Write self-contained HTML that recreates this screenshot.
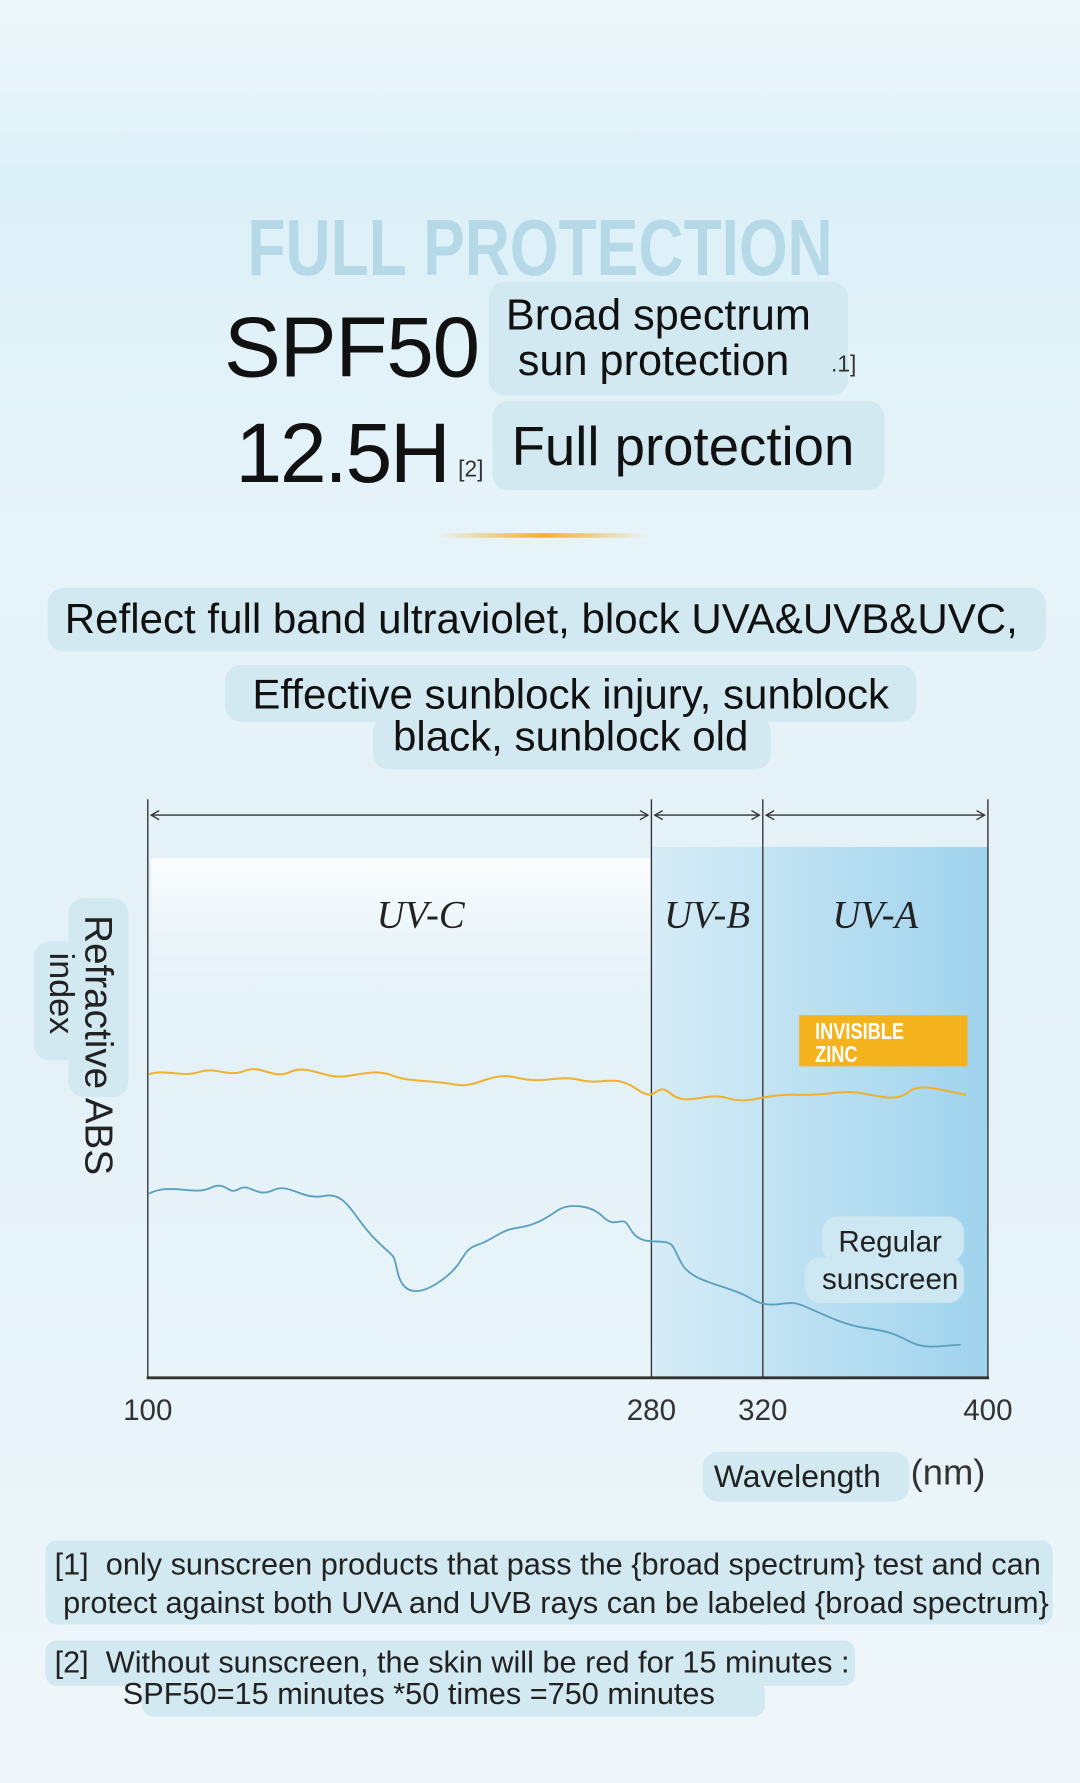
<!DOCTYPE html>
<html><head><meta charset="utf-8">
<style>
html,body{margin:0;padding:0;width:1080px;height:1783px;overflow:hidden}
body{background:#eaf5fa}
#c{position:absolute;left:0;top:0;width:950px;height:1568px;transform:scale(1.13684);transform-origin:0 0;
background:linear-gradient(180deg,#eef7fb 0%,#dcf0f8 10%,#e6f3f9 30%,#e3f1f8 55%,#e8f4f9 80%,#f0f7fa 100%);
font-family:"Liberation Sans",sans-serif;color:#111;overflow:hidden}
.a{position:absolute;white-space:nowrap}
.box{position:absolute;background:#d3e9f1;border-radius:14px}
</style></head><body>
<div id="c">
<div class="a" style="left:0;width:950px;top:178px;text-align:center;font-weight:bold;font-size:70px;color:#b6d9e8;transform:scaleX(0.785);transform-origin:475px 0">FULL PROTECTION</div>
<div class="a" style="left:197px;top:262px;font-size:75px;letter-spacing:-1px">SPF50</div>
<div class="box" style="left:430px;top:248px;width:316px;height:100px"></div>
<div class="a" style="left:445px;top:258px;font-size:38px;line-height:40px">Broad spectrum<br>&nbsp;sun protection</div>
<div class="a" style="left:731px;top:310px;font-size:20px;color:#333">.1]</div>
<div class="a" style="left:207px;top:356px;font-size:74px;letter-spacing:-2px">12.5H</div>
<div class="a" style="left:403px;top:402px;font-size:20px;color:#333">[2]</div>
<div class="box" style="left:433px;top:353px;width:345px;height:78px"></div>
<div class="a" style="left:450px;top:366px;font-size:48px">Full protection</div>
<div class="a" style="left:385px;top:469px;width:185px;height:4px;background:linear-gradient(90deg,rgba(245,178,40,0),#f3b02a,rgba(245,178,40,0))"></div>
<div class="box" style="left:42px;top:517px;width:878px;height:56px"></div>
<div class="a" style="left:57px;top:524px;font-size:37px">Reflect full band ultraviolet, block UVA&amp;UVB&amp;UVC,</div>
<div class="box" style="left:198px;top:585px;width:608px;height:50px"></div>
<div class="box" style="left:328px;top:630px;width:350px;height:47px"></div>
<div class="a" style="left:198px;width:608px;top:592px;text-align:center;font-size:37px;line-height:37px">Effective sunblock injury, sunblock<br>black, sunblock old</div>

<svg class="a" style="left:0;top:690px" width="950" height="560" viewBox="0 690 950 560">
<defs>
<linearGradient id="g1" x1="0" x2="1" y1="0" y2="0"><stop offset="0" stop-color="#d6ecf6"/><stop offset="1" stop-color="#9fd3ee"/></linearGradient>
<linearGradient id="g2" x1="0" x2="0" y1="0" y2="1"><stop offset="0" stop-color="#fbfdfe"/><stop offset="1" stop-color="#e2f1f8" stop-opacity="0"/></linearGradient>
</defs>
<rect x="573" y="745" width="296" height="467" fill="url(#g1)"/>
<rect x="133" y="755" width="440" height="180" fill="url(#g2)"/>
<g stroke="#333" stroke-width="1.2" fill="none">
<line x1="130" y1="703" x2="130" y2="1213"/><line x1="573" y1="703" x2="573" y2="1212"/>
<line x1="671" y1="703" x2="671" y2="1212"/><line x1="869" y1="703" x2="869" y2="1212"/>
<line x1="129" y1="1212" x2="870" y2="1212" stroke-width="2.5"/>
<line x1="133" y1="717" x2="570" y2="717"/><line x1="576" y1="717" x2="668" y2="717"/><line x1="674" y1="717" x2="866" y2="717"/>
<path d="M140 713l-7 4 7 4M563 713l7 4-7 4M583 713l-7 4 7 4M661 713l7 4-7 4M681 713l-7 4 7 4M859 713l7 4-7 4"/>
</g>
<g font-family="Liberation Serif,serif" font-style="italic" font-size="34" fill="#222" text-anchor="middle">
<text x="370" y="816">UV-C</text><text x="622" y="816">UV-B</text><text x="770" y="816">UV-A</text></g>
<rect x="703" y="893" width="148" height="45" fill="#f4b21c"/>
<text x="717" y="914" font-family="Liberation Sans,sans-serif" font-weight="bold" font-size="20" fill="#fff" transform="translate(717 0) scale(0.8 1) translate(-717 0)">INVISIBLE</text>
<text x="717" y="934" font-family="Liberation Sans,sans-serif" font-weight="bold" font-size="20" fill="#fff" transform="translate(717 0) scale(0.8 1) translate(-717 0)">ZINC</text>
<path d="M131 945 C145 940 160 948 175 943 S200 948 215 942 S240 950 255 943 S285 948 300 947 S330 940 345 946 S380 950 400 954 S430 942 455 948 S490 945 510 950 S540 944 560 958 S575 950 590 962 S620 960 640 966 S670 962 700 963 S740 958 760 962 S790 968 800 960 S830 960 850 963" stroke="#f0b12e" stroke-width="1.8" fill="none"/>
<path d="M131 1050 C150 1040 170 1052 185 1045 S200 1052 210 1046 S225 1054 240 1047 S265 1056 285 1052 S310 1070 330 1090 S345 1100 350 1120 S370 1140 390 1125 S405 1100 420 1095 S440 1082 455 1080 S480 1072 490 1065 S520 1060 530 1070 S545 1072 550 1075 S555 1092 575 1092 S590 1095 600 1112 S640 1130 660 1142 S690 1142 705 1148 S740 1165 760 1168 S785 1172 800 1180 S830 1183 845 1183" stroke="#5b9fbf" stroke-width="1.6" fill="none"/>
<g font-size="26" fill="#333" text-anchor="middle"><text x="130" y="1249">100</text><text x="573" y="1249">280</text><text x="671" y="1249">320</text><text x="869" y="1249">400</text></g>
</svg>
<div class="box" style="left:60px;top:790px;width:53px;height:175px"></div>
<div class="box" style="left:30px;top:828px;width:40px;height:105px"></div>
<div class="a" style="left:103px;top:805px;transform-origin:0 0;transform:rotate(90deg);font-size:34px;line-height:34px;color:#222">Refractive ABS</div>
<div class="a" style="left:68px;top:838px;transform-origin:0 0;transform:rotate(90deg);font-size:30px;line-height:30px;color:#222">index</div>
<div class="box" style="left:723px;top:1070px;width:125px;height:40px;background:#cde7f3"></div>
<div class="box" style="left:708px;top:1106px;width:140px;height:40px;background:#cde7f3"></div>
<div class="a" style="left:708px;width:150px;top:1076px;text-align:center;font-size:26px;line-height:33px;color:#222">Regular<br>sunscreen</div>
<div class="box" style="left:618px;top:1277px;width:182px;height:44px"></div>
<div class="a" style="left:628px;top:1283px;font-size:28px;color:#222">Wavelength</div>
<div class="a" style="left:801px;top:1277px;font-size:32px;color:#333">(nm)</div>
<div class="box" style="left:40px;top:1355px;width:886px;height:74px;border-radius:10px"></div>
<div class="a" style="left:48px;top:1359px;font-size:27px;line-height:34px;color:#222">[1]&nbsp; only sunscreen products that pass the {broad spectrum} test and can<br>&nbsp;protect against both UVA and UVB rays can be labeled {broad spectrum}</div>
<div class="box" style="left:40px;top:1443px;width:712px;height:40px;border-radius:10px"></div>
<div class="box" style="left:125px;top:1478px;width:548px;height:32px;border-radius:10px"></div>
<div class="a" style="left:48px;top:1448px;font-size:27px;line-height:28px;color:#222">[2]&nbsp; Without sunscreen, the skin will be red for 15 minutes :<br>&nbsp; &nbsp; &nbsp; &nbsp; SPF50=15 minutes *50 times =750 minutes</div>
</div>
</body></html>
